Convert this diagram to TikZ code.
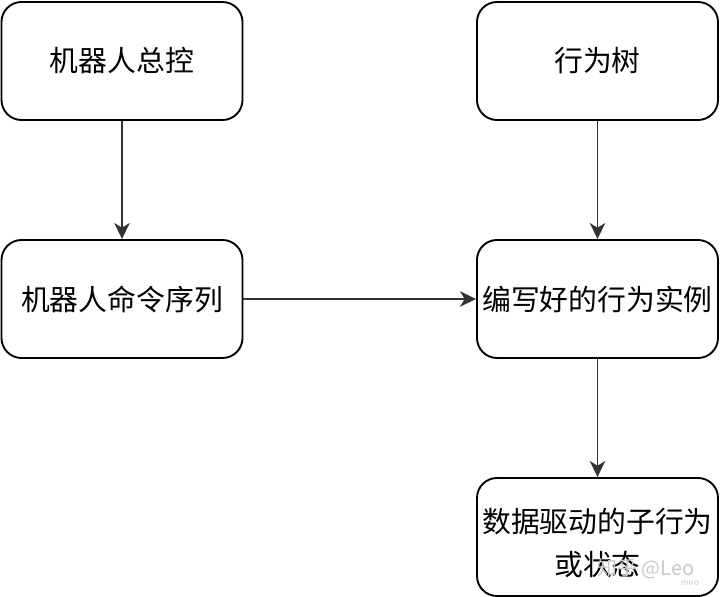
\documentclass[tikz,border=0pt]{standalone}
\usepackage{fontspec}
\setmainfont{Noto Sans CJK SC}
\usetikzlibrary{arrows.meta,positioning}
\definecolor{FlowDark}{HTML}{000000}
\definecolor{FlowLine}{HTML}{333333}
\definecolor{FlowMark}{HTML}{C8C8C8}
\tikzset{
  flowbox/.style={draw=FlowDark, rounded corners=0.6cm, fill=white,
                  line width=1.6pt, align=center, font=\fontsize{24.6}{36}\selectfont,
                  minimum width=7.23cm, minimum height=3.54cm, inner sep=2pt},
  flowtext/.style={align=center, font=\fontsize{24.6}{36}\selectfont, inner sep=0pt},
  arrow/.style={-{Stealth[length=4.8mm,width=4.6mm,inset=1.4mm]}, line width=1.6pt, FlowLine},
  wmark/.style={font=\fontsize{17}{20}\selectfont\color{FlowMark}},
}
\begin{document}
\begin{tikzpicture}[x=0.03cm, y=-0.03cm]
  \useasboundingbox (0,0) rectangle (720,597);

  % boxes
  \node[flowbox] (control) at (122,61)    {机器人总控};
  \node[flowbox] (tree)    at (597.5,61)  {行为树};
  \node[flowbox] (cmds)    at (122,299)   {机器人命令序列};
  \node[flowbox] (inst)    at (597.5,299) {编写好的行为实例};
  \node[flowbox] (sub)     at (597.5,537) {};
  \node[flowtext] (subtxt) at (597.5,543) {数据驱动的子行为\\或状态};

  % connectors
  \draw[arrow] (control) -- (cmds);
  \draw[arrow] (tree) -- (inst);
  \draw[arrow] (cmds) -- (inst);
  \draw[arrow] (inst) -- (sub);

  % watermark
  \node[wmark] (wm) at (646,569) {知乎 @Leo};
  \node[font=\fontsize{7}{8}\selectfont\color{FlowMark}] (wm2) at (690,582) {miro};

\end{tikzpicture}
\end{document}
